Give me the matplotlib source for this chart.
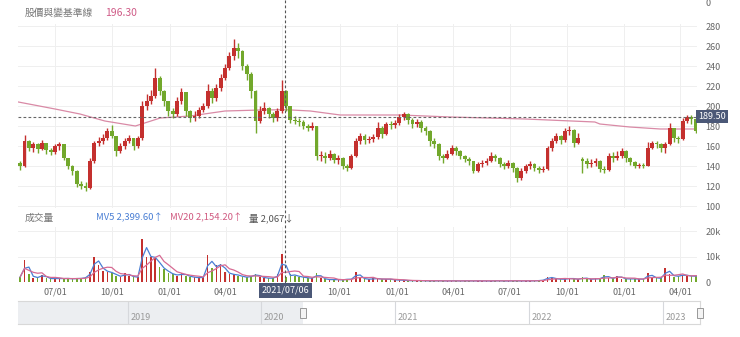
import numpy as np
import pandas as pd
import matplotlib
matplotlib.use("Agg")
import matplotlib.pyplot as plt
import matplotlib.dates as mdates
from matplotlib.lines import Line2D
from matplotlib.patches import Rectangle

plt.rcParams['font.family'] = ['Noto Sans CJK TC', 'DejaVu Sans']

# weekly candles, week starting Monday
weeks = pd.date_range('2020-05-04', periods=157, freq='7D')
first_open = 143
close = [
    140, 165, 158, 162, 157, 163, 156, 154, 160, 162,
    148, 140, 135, 122, 120, 118, 145, 163, 165, 168,
    175, 170, 155, 160, 165, 168, 160, 168, 200, 205,
    210, 228, 215, 205, 195, 192, 205, 214, 195, 188,
    190, 196, 200, 215, 208, 218, 228, 238, 250, 258,
    255, 240, 232, 215, 185, 195, 198, 192, 188, 195,
    215, 200, 186, 185, 184, 180, 178, 180, 150, 150,
    148, 152, 146, 148, 140, 138, 150, 165, 170, 166,
    167, 169, 178, 172, 182, 181, 183, 189, 192, 186,
    182, 184, 178, 175, 165, 162, 150, 148, 152, 158,
    155, 150, 147, 145, 135, 142, 143, 145, 150, 148,
    142, 140, 143, 138, 128, 135, 140, 142, 138, 136,
    137, 158, 165, 170, 166, 175, 176, 163, 168, 145,
    142, 143, 145, 137, 136, 150, 148, 150, 155, 148,
    144, 140, 141, 140, 158, 163, 162, 158, 162, 178,
    168, 167, 185, 189, 187, 175, 179,
]
high = [
    145, 171, 166, 164, 163, 166, 163, 158, 162, 164,
    160, 148, 141, 136, 125, 124, 148, 165, 169, 172,
    178, 181, 170, 163, 168, 171, 167, 170, 205, 212,
    216, 238, 230, 216, 205, 198, 209, 218, 214, 196,
    195, 199, 203, 222, 218, 222, 232, 242, 254, 267,
    263, 256, 242, 234, 216, 200, 204, 199, 194, 198,
    226, 216, 200, 190, 188, 186, 182, 184, 180, 155,
    154, 156, 153, 151, 149, 142, 152, 168, 173, 172,
    170, 172, 184, 180, 184, 185, 186, 192, 194, 193,
    188, 187, 186, 180, 176, 168, 163, 152, 156, 161,
    160, 156, 151, 149, 145, 144, 146, 148, 154, 152,
    149, 144, 146, 144, 139, 138, 142, 145, 143, 140,
    140, 160, 168, 173, 171, 178, 180, 177, 173, 149,
    148, 147, 148, 146, 140, 153, 154, 155, 158, 156,
    149, 145, 143, 143, 164, 165, 165, 163, 164, 183,
    178, 170, 188, 191, 191, 188, 181,
]
low = [
    136, 139, 155, 154, 153, 156, 152, 151, 152, 156,
    146, 137, 131, 119, 117, 115, 117, 143, 160, 162,
    166, 168, 150, 153, 157, 163, 156, 158, 166, 196,
    202, 208, 211, 200, 190, 188, 190, 202, 190, 184,
    185, 188, 194, 198, 203, 205, 215, 226, 236, 246,
    248, 236, 226, 208, 173, 183, 192, 188, 184, 185,
    193, 195, 183, 182, 180, 177, 175, 176, 146, 145,
    143, 146, 143, 142, 137, 135, 137, 149, 162, 162,
    163, 164, 167, 168, 171, 177, 178, 181, 186, 182,
    178, 179, 174, 171, 160, 158, 146, 143, 147, 151,
    151, 147, 144, 141, 133, 134, 139, 141, 144, 145,
    139, 137, 138, 134, 124, 126, 133, 137, 135, 133,
    134, 136, 155, 163, 162, 164, 171, 159, 162, 133,
    138, 139, 140, 134, 133, 135, 144, 146, 148, 144,
    141, 138, 138, 138, 140, 157, 158, 154, 153, 161,
    164, 163, 166, 183, 182, 173, 173,
]
# opens that gap away from the previous close
gap_open = {129: 147}

volume = [
    2000, 8700, 3000, 1500, 2000, 2800, 1500, 1200, 1500, 1200,
    1500, 1300, 1200, 1500, 1300, 2000, 4000, 10000, 6500, 4500,
    4000, 3500, 2500, 2000, 3400, 2500, 1800, 2000, 17000, 10000,
    10000, 9300, 6000, 5000, 3500, 3000, 2500, 3400, 2500, 2000,
    1800, 1600, 2000, 10700, 5500, 6500, 7000, 4000, 3000, 3000,
    2500, 2000, 1800, 2500, 3000, 2000, 1500, 1500, 1500, 3000,
    11000, 2067, 3000, 2500, 2000, 1800, 1500, 1500, 3400, 1500,
    1000, 900, 1000, 800, 900, 1200, 1000, 4000, 1500, 1200,
    1000, 1400, 1300, 1000, 1200, 1000,
    700, 800, 600, 500, 500, 600, 500,
    400, 500, 400, 500, 400, 400, 500,
    400, 400, 500, 400, 400, 500, 400,
    400, 400, 500, 400, 400, 400, 500,
    400, 400, 500, 400, 500, 600, 800,
    2000, 1500, 1200, 1000, 1200, 1500, 1200, 1000, 1800, 1200,
    1000, 1400, 1200, 2800, 1400, 1400, 2500, 1300, 1200, 1200,
    1300, 1000, 1200, 3400, 1800, 1500, 1400, 5400, 3000, 2000,
    2500, 2800, 2500, 2200, 2400, 2100,
]

# long moving average (baseline) line
base_dates = ['2020-05-03', '2020-07-01', '2020-08-10', '2020-09-19', '2020-11-07',
              '2020-12-17', '2021-02-03', '2021-03-31', '2021-05-27', '2021-07-06',
              '2021-08-15', '2021-10-02', '2022-01-07', '2022-03-28', '2022-07-26',
              '2022-11-15', '2022-11-23', '2023-01-10', '2023-02-28', '2023-04-28']
base_values = [204, 197, 192, 185, 180, 188, 190, 195, 196, 196.3,
               195, 191, 191, 189, 187, 184, 182, 179, 177, 177]

quarter_ticks = pd.date_range('2020-07-01', '2023-04-01', freq='QS')
price_ticks = list(range(100, 281, 20))
vol_ticks = [0, 10000, 20000]
vol_tick_labels = ['0', '10k', '20k']
nav_years = [2019, 2020, 2021, 2022, 2023]

cross_date = '2021-07-06'
cross_price = 189.50

RED = '#c4302e'
GREEN = '#72a82c'
GRID = '#efefef'
TXT = '#666666'

W, H = 740, 337
fig = plt.figure(figsize=(W / 100, H / 100), dpi=100)


def box(l, t, r, b):
    return [l / W, 1 - b / H, (r - l) / W, (b - t) / H]


x0 = mdates.date2num(pd.Timestamp('2020-05-02 12:00'))
x1 = mdates.date2num(pd.Timestamp('2023-04-28'))

c = np.array(close, dtype=float)
o = np.concatenate([[first_open], c[:-1]])
for k, v in gap_open.items():
    o[k] = v
h = np.maximum(np.array(high, dtype=float), np.maximum(o, c))
lo = np.minimum(np.array(low, dtype=float), np.minimum(o, c))
xs = mdates.date2num(weeks) + 2
cols = np.where(c >= o, RED, GREEN)

# ---- price panel
ax = fig.add_axes(box(18, 24, 697, 208))
ax.set_xlim(x0, x1)
ax.set_ylim(98, 282)
ax.vlines(xs, lo, h, colors=cols, lw=1.0, zorder=3)
body = np.maximum(np.abs(c - o), 1.0)
ax.bar(xs, body, bottom=np.minimum(o, c), width=6.2, color=cols, lw=0, zorder=4)
ax.plot(mdates.date2num(pd.to_datetime(base_dates)), base_values,
        color='#d98aa6', lw=0.9, zorder=2)
ax.axhline(cross_price, color='#666666', lw=0.8, ls=(0, (2.5, 2)), zorder=5)
ax.set_yticks(price_ticks)
ax.set_xticks(mdates.date2num(quarter_ticks))
ax.grid(True, color=GRID, lw=0.7)
ax.yaxis.tick_right()
ax.tick_params(axis='y', length=0, pad=6, labelsize=6.5, labelcolor=TXT)
ax.tick_params(axis='x', length=0, labelbottom=False)
for s in ax.spines.values():
    s.set_visible(False)

ax.text(1.002, (cross_price - 98) / 184, f'{cross_price:.2f}', transform=ax.transAxes,
        ha='left', va='center', fontsize=6.5, color='white', zorder=10,
        bbox=dict(boxstyle='square,pad=0.25', fc='#4b5877', ec='none'))

# ---- volume panel
av = fig.add_axes(box(18, 227, 697, 282))
av.set_xlim(x0, x1)
av.set_ylim(0, 21570)
vol = np.array(volume, dtype=float)
av.bar(xs, vol, width=2.6, color=cols, lw=0, zorder=3)
mv_fast = pd.Series(vol).rolling(2, min_periods=1).mean()
mv_slow = pd.Series(vol).rolling(5, min_periods=1).mean()
av.plot(xs, mv_fast, color='#4a7fd4', lw=0.9, zorder=4)
av.plot(xs, mv_slow, color='#d76a93', lw=0.9, zorder=4)
av.set_yticks(vol_ticks)
av.set_yticklabels(vol_tick_labels)
av.set_xticks(mdates.date2num(quarter_ticks))
# the crosshair date box sits over the tick next to it
tick_text = ['' if abs((d - pd.Timestamp(cross_date)).days) < 20 else d.strftime('%m/%d')
             for d in quarter_ticks]
av.set_xticklabels(tick_text)
av.grid(True, color=GRID, lw=0.7)
av.yaxis.tick_right()
av.tick_params(axis='y', length=0, pad=6, labelsize=6.5, labelcolor=TXT)
av.tick_params(axis='x', length=0, pad=4, labelsize=6.5, labelcolor=TXT)
for s in av.spines.values():
    s.set_visible(False)
av.axhline(0, color='#e0e0e0', lw=0.7, zorder=1)

# crosshair across both panels
cx = mdates.date2num(pd.Timestamp(cross_date))
xf = fig.transFigure.inverted().transform(ax.transData.transform((cx, 150)))[0]
fig.add_artist(Line2D([xf, xf], [1.0, 1 - 283 / H], transform=fig.transFigure,
                      color='#555555', lw=0.8, ls=(0, (2.5, 2)), zorder=6))
fig.text(xf, 1 - 290.5 / H, pd.Timestamp(cross_date).strftime('%Y/%m/%d'),
         ha='center', va='center', fontsize=6.5, color='white', zorder=10,
         bbox=dict(boxstyle='square,pad=0.3', fc='#4b5877', ec='none'))

# headers
fig.text(25 / W, 1 - 13 / H, '股價與變基準線', fontsize=7, color='#777777', va='center')
fig.text(105 / W, 1 - 13 / H, '196.30', fontsize=7.5, color='#cf5a86', va='center')
fig.text(25 / W, 1 - 218 / H, '成交量', fontsize=7, color='#777777', va='center')
fig.text(96 / W, 1 - 218 / H, 'MV5 2,399.60↑', fontsize=6.8, color='#4a7fd4', va='center')
fig.text(170 / W, 1 - 218 / H, 'MV20 2,154.20↑', fontsize=6.8, color='#d05a80', va='center')
fig.text(249 / W, 1 - 218 / H, '量 2,067↓', fontsize=6.8, color='#555555', va='center')
fig.text(705 / W, 1 - 3 / H, '0', fontsize=6.5, color=TXT, va='center')

# ---- range navigator
an = fig.add_axes(box(18, 301, 700, 324))
an.set_xlim(2018.18, 2023.28)
an.set_ylim(0, 1)
an.axvspan(2018.18, 2020.31, color='#eceef1', lw=0)
for yr in nav_years:
    an.axvline(yr, color='#d6d8dc', lw=0.8)
    an.text(yr + 0.02, 0.1, str(yr), fontsize=6.5, color='#999999', va='bottom')
an.set_xticks([])
an.set_yticks([])
for s in an.spines.values():
    s.set_color('#d8d8d8')
    s.set_linewidth(0.8)
an.spines['left'].set_visible(False)
for hx in (2020.31, 2023.28):
    an.add_patch(Rectangle((hx - 0.02, 0.28), 0.04, 0.42, fc='#f4f4f4', ec='#999999',
                           lw=0.7, clip_on=False, zorder=5))

fig.savefig('out.png', dpi=100)
